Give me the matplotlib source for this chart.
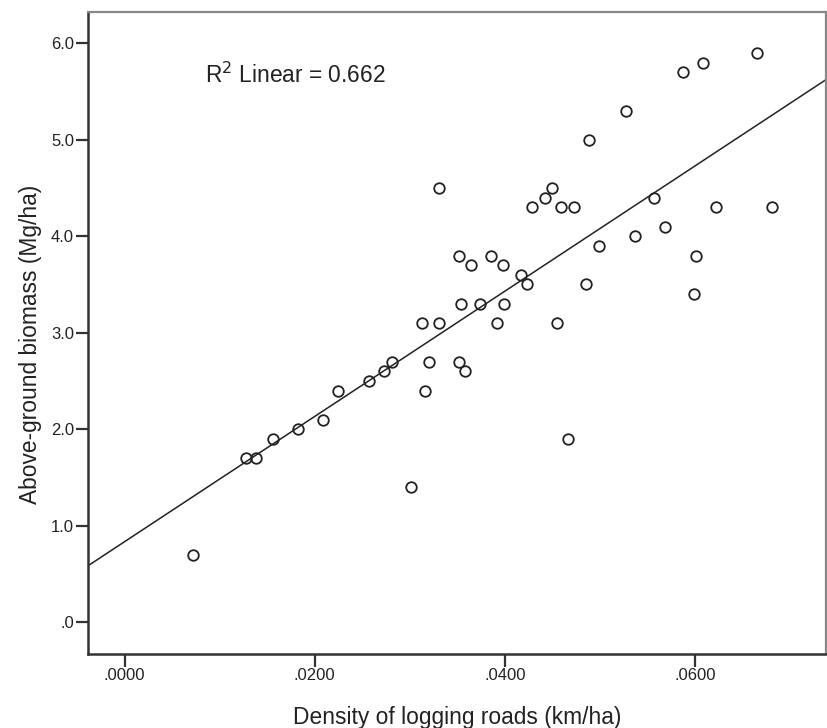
#!/usr/bin/env python3
import numpy as np

import matplotlib
matplotlib.use("Agg")
import matplotlib.pyplot as plt

road_density = [
    0.0072, 0.0128, 0.0138, 0.0156, 0.0182, 0.0209, 0.0224, 0.0257, 0.0273, 0.0281,
    0.0301, 0.0316, 0.0320, 0.0352, 0.0358, 0.0466,
    0.0331, 0.0352, 0.0364, 0.0385, 0.0398, 0.0417, 0.0423, 0.0354, 0.0374, 0.0399,
    0.0313, 0.0331, 0.0392, 0.0455, 0.0485, 0.0499, 0.0537, 0.0569, 0.0557, 0.0429,
    0.0442, 0.0450, 0.0459, 0.0473, 0.0489, 0.0528, 0.0588, 0.0609, 0.0665, 0.0622,
    0.0681, 0.0601, 0.0599,
]
biomass = [
    0.7, 1.7, 1.7, 1.9, 2.0, 2.1, 2.4, 2.5, 2.6, 2.7,
    1.4, 2.4, 2.7, 2.7, 2.6, 1.9,
    4.5, 3.8, 3.7, 3.8, 3.7, 3.6, 3.5, 3.3, 3.3, 3.3,
    3.1, 3.1, 3.1, 3.1, 3.5, 3.9, 4.0, 4.1, 4.4, 4.3,
    4.4, 4.5, 4.3, 4.3, 5.0, 5.3, 5.7, 5.8, 5.9, 4.3,
    4.3, 3.8, 3.4,
]
x_ticks = [0.0, 0.02, 0.04, 0.06]
x_tick_labels = [".0000", ".0200", ".0400", ".0600"]
y_ticks = [0.0, 1.0, 2.0, 3.0, 4.0, 5.0, 6.0]
y_tick_labels = [".0", "1.0", "2.0", "3.0", "4.0", "5.0", "6.0"]

plt.rcParams["font.family"] = ["Liberation Sans", "DejaVu Sans"]

x = np.array(road_density)
y = np.array(biomass)
slope, intercept = np.polyfit(x, y, 1)

fig = plt.figure(figsize=(8.27, 7.28), dpi=100)
ax = fig.add_axes([0.1064, 0.1016, 0.8924, 0.8819])

xlim = (-0.00386, 0.0738)
ylim = (-0.33, 6.324)
ax.set_xlim(*xlim)
ax.set_ylim(*ylim)

xs = np.array(xlim)
ax.plot(xs, intercept + slope * xs, color="#222222", linewidth=1.1, zorder=2)
ax.plot(x, y, linestyle="none", marker="o", markersize=7.6,
        markerfacecolor="none", markeredgecolor="#222222", markeredgewidth=1.3, zorder=3)

ax.set_xticks(x_ticks)
ax.set_xticklabels(x_tick_labels)
ax.set_yticks(y_ticks)
ax.set_yticklabels(y_tick_labels)
ax.tick_params(direction="out", length=9, width=1.6, color="#333333",
               labelsize=12, labelcolor="#222222", pad=1)

for side in ("left", "bottom"):
    ax.spines[side].set_color("#333333")
    ax.spines[side].set_linewidth(1.8)
for side in ("top", "right"):
    ax.spines[side].set_color("#888888")
    ax.spines[side].set_linewidth(1.6)

ax.set_xlabel("Density of logging roads (km/ha)", fontsize=16.4, color="#222222")
ax.set_ylabel("Above-ground biomass (Mg/ha)", fontsize=16.4, color="#222222")
ax.xaxis.set_label_coords(0.5, -0.081)
ax.yaxis.set_label_coords(-0.062, 0.483)

ax.text(0.1585, 0.902, "R$^2$ Linear = 0.662", transform=ax.transAxes,
        fontsize=16.4, color="#222222", va="center", ha="left")

fig.savefig("out.png", dpi=100)
